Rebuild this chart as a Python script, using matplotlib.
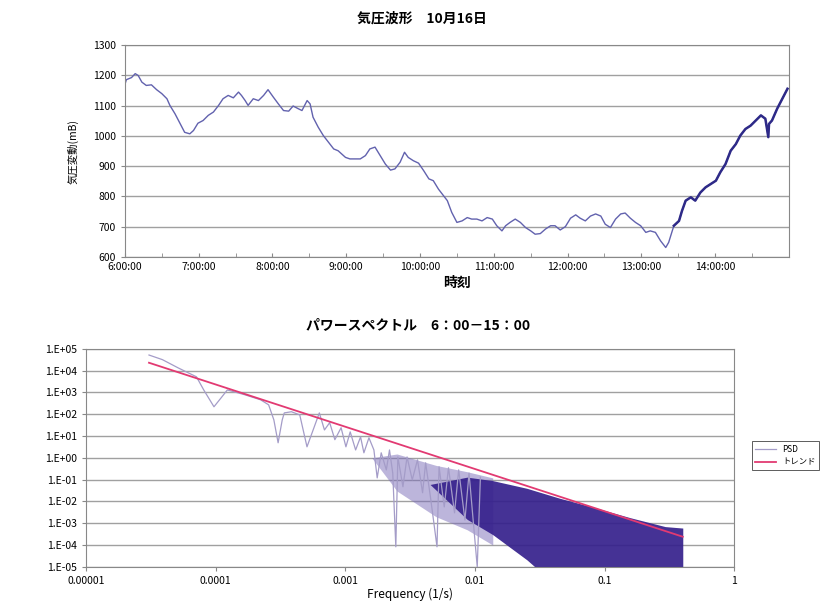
import numpy as np
import matplotlib
matplotlib.use('Agg')
import matplotlib.pyplot as plt
from matplotlib.ticker import FixedLocator, NullFormatter

plt.rcParams['font.family'] = ['Noto Sans CJK JP', 'DejaVu Sans']

# 気圧波形 (hours from 6:00, value)
hours = [0.00, 0.02, 0.09, 0.14, 0.18, 0.23, 0.29, 0.36, 0.43, 0.50, 0.57, 0.61,
         0.68, 0.75, 0.81, 0.88, 0.93, 0.99, 1.06, 1.13, 1.20, 1.27, 1.33, 1.40,
         1.47, 1.54, 1.58, 1.63, 1.67, 1.74, 1.81, 1.88, 1.94, 2.01, 2.08, 2.15,
         2.22, 2.28, 2.35, 2.40, 2.47, 2.51, 2.55, 2.62, 2.69, 2.76, 2.83, 2.89,
         2.99, 3.05, 3.19, 3.26, 3.32, 3.39, 3.46, 3.53, 3.60, 3.66, 3.73, 3.79,
         3.84, 3.91, 3.98, 4.05, 4.12, 4.18, 4.25, 4.32, 4.37, 4.43, 4.50, 4.57,
         4.64, 4.70, 4.77, 4.84, 4.91, 4.98, 5.04, 5.11, 5.16, 5.22, 5.29, 5.36,
         5.43, 5.50, 5.56, 5.63, 5.70, 5.77, 5.83, 5.90, 5.97, 6.04, 6.11, 6.17,
         6.24, 6.31, 6.38, 6.45, 6.51, 6.58, 6.65, 6.72, 6.78, 6.85, 6.92, 6.99,
         7.06, 7.12, 7.19, 7.26, 7.33, 7.37, 7.44, 7.51, 7.55, 7.60, 7.67, 7.73,
         7.80, 7.87, 7.94, 8.01, 8.07, 8.14, 8.21, 8.28, 8.34, 8.41, 8.48, 8.55,
         8.62, 8.68, 8.72, 8.73, 8.77, 8.84, 8.91, 8.98]
pressure = [1170, 1186, 1193, 1206, 1200, 1178, 1167, 1169, 1153, 1140, 1123, 1101,
            1073, 1040, 1012, 1007, 1018, 1042, 1051, 1068, 1079, 1101, 1123, 1134,
            1126, 1145, 1134, 1117, 1101, 1123, 1117, 1134, 1153, 1129, 1106, 1084,
            1082, 1099, 1090, 1084, 1117, 1106, 1062, 1029, 1001, 979, 957, 951,
            929, 924, 924, 935, 957, 963, 935, 907, 887, 891, 913, 946,
            929, 918, 910, 885, 858, 852, 824, 802, 786, 747, 714, 719,
            730, 725, 725, 719, 730, 725, 703, 686, 703, 714, 725, 714,
            697, 686, 675, 677, 692, 703, 703, 689, 700, 728, 739, 728,
            719, 735, 742, 735, 708, 697, 725, 742, 745, 728, 714, 703,
            681, 686, 681, 653, 631, 648, 703, 719, 752, 786, 797, 786,
            813, 830, 841, 852, 880, 907, 951, 973, 1001, 1023, 1034, 1051,
            1068, 1057, 996, 1040, 1051, 1090, 1123, 1156]
time_ticks = [6, 7, 8, 9, 10, 11, 12, 13, 14]
time_labels = ['6:00:00', '7:00:00', '8:00:00', '9:00:00', '10:00:00',
               '11:00:00', '12:00:00', '13:00:00', '14:00:00']

# パワースペクトル
freq = [3.06e-5, 3.88e-5, 5.12e-5, 7.11e-5, 8.09e-5, 9.70e-5, 1.10e-4, 1.23e-4,
        1.68e-4, 2.22e-4, 2.56e-4, 2.81e-4, 3.03e-4, 3.26e-4, 3.38e-4, 3.84e-4,
        4.45e-4, 5.06e-4, 6.30e-4, 6.90e-4, 7.57e-4, 8.30e-4, 9.27e-4, 1.01e-3,
        1.09e-3, 1.20e-3, 1.31e-3, 1.39e-3, 1.52e-3, 1.66e-3, 1.76e-3, 1.89e-3,
        2.07e-3, 2.19e-3, 2.32e-3, 2.45e-3, 2.54e-3, 2.78e-3, 2.99e-3, 3.28e-3,
        3.60e-3, 3.94e-3, 4.16e-3, 4.56e-3, 5.09e-3, 5.28e-3, 5.79e-3, 6.24e-3,
        6.95e-3, 7.48e-3, 8.36e-3, 8.99e-3, 1.04e-2, 1.10e-2]
psd = [5.2e4, 3.2e4, 1.35e4, 5.2e3, 1.3e3, 220, 560, 1.3e3,
       780, 460, 270, 55, 4.9, 55, 115, 130,
       93, 3.2, 115, 19, 41, 6.8, 24, 3.2,
       15.5, 2.3, 9.1, 1.7, 8.3, 2.3, 0.12, 1.7,
       0.28, 2.3, 0.2, 8.3e-5, 1.1, 0.047, 1.1, 0.098,
       0.81, 0.025, 0.59, 0.012, 8.3e-5, 0.39, 5.6e-3, 0.35,
       3.0e-3, 0.28, 1.4e-3, 0.2, 1e-5, 0.13]
# dense part of the spectrum: upper / lower edge
mid_freq = [1.6e-3, 2.5e-3, 5e-3, 8.7e-3, 1.37e-2]
mid_upper = [1.0, 1.5, 0.45, 0.23, 0.12]
mid_lower = [1.0, 0.03, 2e-3, 5e-4, 1.0e-4]
band_freq = [4.5e-3, 8.7e-3, 1.37e-2, 2.51e-2, 4.5e-2, 8.6e-2, 0.157, 0.293, 0.40]
band_upper = [0.06, 0.13, 0.09, 0.040, 0.014, 5.0e-3, 1.8e-3, 7.0e-4, 6.0e-4]
band_lower = [0.06, 1.5e-3, 3e-4, 2.1e-5, 1e-6, 1e-6, 1e-6, 1e-6, 1e-6]
trend_freq = [3.06e-5, 0.40]
trend_psd = [2.3e4, 2.4e-4]
freq_ticks = [1e-5, 1e-4, 1e-3, 1e-2, 1e-1, 1]
freq_labels = ['0.00001', '0.0001', '0.001', '0.01', '0.1', '1']
psd_ticks = [10.0 ** k for k in range(-5, 6)]
psd_labels = ['1.E%s%02d' % ('+' if k >= 0 else '-', abs(k)) for k in range(-5, 6)]

fig = plt.figure(figsize=(8.27, 6.03), dpi=100)

ax = fig.add_axes([0.151, 0.574, 0.803, 0.351])
t = np.array(hours) + 6
p = np.array(pressure)
ax.plot(t, p, color='#6262ae', lw=1.0)
late = t >= 13.4
ax.plot(t[late], p[late], color='#2e2a88', lw=1.8)
ax.set_xlim(6, 15)
ax.set_ylim(600, 1300)
ax.set_yticks(range(600, 1301, 100))
ax.yaxis.grid(True, color='#a0a0a0', lw=1.0)
ax.set_axisbelow(True)
ax.set_xticks(time_ticks)
ax.set_xticklabels(time_labels)
ax.xaxis.set_minor_locator(FixedLocator(np.arange(6.5, 15, 1.0)))
ax.tick_params(axis='x', which='both', direction='in', length=3, color='#888888', labelsize=7.5)
ax.tick_params(axis='y', direction='out', length=3, color='#888888', labelsize=7.5)
for s in ax.spines.values():
    s.set_color('#888888')
ax.set_xlabel('時刻', fontsize=10, fontweight='bold', labelpad=3)
ax.set_ylabel('気圧変動(mB)', fontsize=7.5, labelpad=10)
fig.text(0.51, 0.969, '気圧波形　10月16日', ha='center', va='center', fontsize=10, fontweight='bold')

bx = fig.add_axes([0.104, 0.060, 0.784, 0.3615])
bx.set_xscale('log')
bx.set_yscale('log')
bx.fill_between(mid_freq, mid_lower, mid_upper, color='#7a6cb8', lw=0, alpha=0.5)
bx.fill_between(band_freq, band_lower, band_upper, color='#35208c', lw=0, alpha=0.92)
bx.plot(freq, psd, color='#a49cc8', lw=0.9, label='PSD')
bx.plot(trend_freq, trend_psd, color='#e23a72', lw=1.3, label='トレンド')
bx.set_xlim(1e-5, 1)
bx.set_ylim(1e-5, 1e5)
bx.xaxis.set_major_locator(FixedLocator(freq_ticks))
bx.set_xticklabels(freq_labels)
bx.xaxis.set_minor_formatter(NullFormatter())
bx.xaxis.set_minor_locator(FixedLocator([]))
bx.yaxis.set_major_locator(FixedLocator(psd_ticks))
bx.set_yticklabels(psd_labels)
bx.yaxis.set_minor_locator(FixedLocator([]))
bx.yaxis.grid(True, color='#a0a0a0', lw=1.0)
bx.set_axisbelow(True)
bx.tick_params(axis='both', direction='out', length=3, color='#888888', labelsize=7.5)
for s in bx.spines.values():
    s.set_color('#888888')
bx.set_xlabel('Frequency (1/s)', fontsize=8.5, labelpad=1)
fig.text(0.505, 0.461, 'パワースペクトル　6：00－15：00', ha='center', va='center', fontsize=10, fontweight='bold')
leg = bx.legend(loc='center left', bbox_to_anchor=(1.02, 0.51), fontsize=6, frameon=True,
                fancybox=False, edgecolor='#333333', handlelength=2.5, borderpad=0.4)
leg.get_frame().set_linewidth(0.7)

fig.savefig('out.png', dpi=100)
